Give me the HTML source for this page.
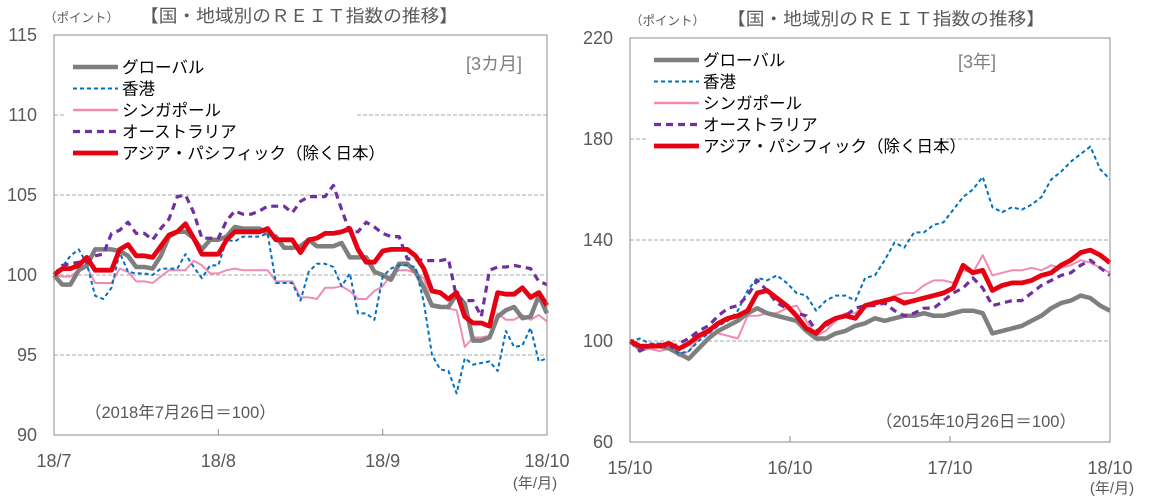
<!DOCTYPE html>
<html><head><meta charset="utf-8">
<style>
html,body{margin:0;padding:0;background:#fff;}
svg{display:block;font-family:"Liberation Sans","Noto Sans CJK JP",sans-serif;}
</style></head>
<body>
<svg id="c" width="1151" height="501" viewBox="0 0 1151 501" xmlns="http://www.w3.org/2000/svg"></svg>
<script>
// ---------- Left chart data (3 months, trading-day samples) ----------
const leftXTicks = ["18/7","18/8","18/9","18/10"];
const leftYTicks = [90,95,100,105,110,115];
const leftGlobal = [100,99.4,99.4,100.3,100.6,101.6,101.6,101.6,101.5,101.2,100.5,100.5,100.4,101.2,102.4,102.7,102.7,102.3,101.6,102.2,102.2,102.4,103,102.9,102.9,102.9,102.6,102.4,101.7,101.7,101.8,102.2,101.8,101.8,101.8,102,101.1,101.1,101.1,100.2,100,99.7,100.7,100.7,100.2,99.2,98.1,98,98,98.8,98.2,95.9,95.9,96.1,97.4,97.8,98,97.3,97.4,98.7,97.6];
const leftHK = [100,100.5,101.2,101.6,100.7,98.7,98.5,99.2,101.4,100.2,100.1,100.1,100,100.4,100.4,100.4,101.3,100.5,99.8,100.6,100.6,102.2,102.1,102.4,102.4,102.4,102.6,99.5,99.5,99.5,98.4,100.2,100.7,100.7,100.5,99.3,100.1,97.6,97.6,97.2,99.9,100.4,100.6,100.6,100.5,98.3,95,94.1,94,92.6,94.8,94.4,94.5,94.6,94,96.5,95.5,95.6,96.7,94.6,94.8];
const leftSG = [100,99.9,99.9,100.3,100.5,99.5,99.5,99.5,100.4,100.2,99.6,99.6,99.5,99.9,100.3,100.3,100.3,100.9,100.6,100.1,100.1,100.3,100.4,100.3,100.3,100.3,100.3,99.6,99.6,99.6,98.6,98.6,98.5,99.2,99.2,99.3,99,98.5,98.5,99,99.3,100,100.3,100.3,100.1,99.8,98.2,98.1,97.9,97.8,95.5,96.1,96.1,96.2,97.6,97.2,97.2,97.5,97.2,97.5,97.1];
const leftAU = [100,100.6,100.7,100.8,100.8,101.2,101.3,102.6,102.8,103.3,102.6,102.6,102.2,102.9,103.5,104.9,105,103.9,102.3,102.3,102.3,103.4,104,103.8,103.8,104,104.3,104.3,104.3,103.9,104.6,104.9,104.9,104.9,105.6,104.1,102.7,102.7,103.3,103,102.6,102.4,102.4,101,101,100.9,100.9,100.9,101,98.6,98.4,98.4,97.4,100.3,100.5,100.5,100.6,100.5,100.4,99.6,99.4];
const leftAP = [100,100.4,100.4,100.6,101.1,100.3,100.3,100.3,101.6,101.9,101.2,101.2,101.1,101.8,102.5,102.7,103.2,102.3,101.3,101.3,101.3,102.2,102.7,102.7,102.7,102.7,102.9,102.2,102.2,102.2,101.4,102.2,102.3,102.6,102.6,102.7,102.9,101.6,100.8,100.8,101.5,101.6,101.6,101.6,101.2,100.4,99,98.9,98.5,98.9,97.4,97,97,96.8,98.9,98.8,98.8,99.2,98.6,98.9,98.1];

// ---------- Right chart data (3 years) ----------
const rightXTicks = ["15/10","16/10","17/10","18/10"];
const rightYTicks = [60,100,140,180,220];
const rightGlobal = [100,97,98,98,97,95,93,97,101,104,106,108,111,113,111,110,109,108,104,101,101,103,104,106,107,109,108,109,110,110,111,110,110,111,112,112,111,103,104,105,106,108,110,113,115,116,118,117,114,112];
const rightHK = [100,101,99,99,98,95,96,100,103,106,108,112,120,125,124,126,123,119,118,112,116,118,118,116,125,126,132,139,137,143,143,146,147,152,157,160,165,153,151,153,152,154,157,164,167,171,174,177,168,164];
const rightSG = [100,96,97,96,97,94,96,101,103,103,102,101,110,110,111,111,113,114,108,102,104,108,111,111,114,116,116,118,119,119,122,124,124,123,128,127,134,126,127,128,128,129,128,130,129,130,132,131,129,127];
const rightAU = [100,96,98,99,97,99,101,104,106,110,113,114,118,124,120,115,113,111,110,104,106,109,110,113,114,114,115,112,110,111,113,113,116,119,121,125,121,114,115,116,116,119,122,124,126,127,130,132,129,126];
const rightAP = [100,98,98,98,99,97,99,102,104,107,109,110,112,119,120,117,114,110,105,103,107,109,110,109,114,115,116,117,115,116,117,118,119,121,130,127,128,120,122,123,123,124,126,127,130,132,135,136,134,131];

const NS="http://www.w3.org/2000/svg";
const svg=document.getElementById('c');
function mk(tag,attrs,parent){const e=document.createElementNS(NS,tag);for(const k in attrs)e.setAttribute(k,attrs[k]);(parent||svg).appendChild(e);return e;}
function txt(s,attrs,parent){const e=mk('text',attrs,parent);e.textContent=s;return e;}

const styles={
 global:{stroke:'#7f7f7f',w:4.5,dash:null},
 hk:{stroke:'#0070c0',w:2,dash:'4,3'},
 sg:{stroke:'#f08cb4',w:2,dash:null},
 au:{stroke:'#7030a0',w:3.2,dash:'7,5'},
 ap:{stroke:'#e60012',w:4.8,dash:null}
};
const legendNames=["グローバル","香港","シンガポール","オーストラリア","アジア・パシフィック（除く日本）"];
const legendKeys=['global','hk','sg','au','ap'];

function chart(cfg){
 const g=mk('g',{});
 
 
 const {x0,x1,y0,y1,vmin,vmax}=cfg;
 const yS=v=>y1-(v-vmin)/(vmax-vmin)*(y1-y0);
 cfg.yTicks.forEach(v=>{
  if(v===vmin||v===vmax)return;
  const y=yS(v);
  if(v===cfg.gapVal){
   const l1=mk('line',{x1:x0,x2:cfg.gap[0],y1:y,y2:y,stroke:'#8c8c8c','stroke-width':0.8,'stroke-dasharray':'4,2'},g);
    
   const l2=mk('line',{x1:cfg.gap[1],x2:x1,y1:y,y2:y,stroke:'#8c8c8c','stroke-width':0.8,'stroke-dasharray':'4,2'},g);
    
  } else {
   const l=mk('line',{x1:x0,x2:x1,y1:y,y2:y,stroke:'#8c8c8c','stroke-width':0.8,'stroke-dasharray':'4,2'},g);
    
  }
 });
 cfg.yTicks.forEach(v=>{
  const t=txt(String(v),{x:cfg.yLabelX,y:yS(v)+6,'text-anchor':'end','font-size':18,fill:'#595959'},g);
   
 });
 cfg.xTicks.forEach((s,i)=>{
  const x=x0+i*(x1-x0)/(cfg.xTicks.length-1);
  if(i>0&&i<cfg.xTicks.length-1){
   const tk=mk('line',{x1:x,x2:x,y1:y1,y2:y1-6,stroke:'#8c8c8c','stroke-width':1},g);
    
  }
  const t=txt(s,{x:x,y:cfg.xLabelY,'text-anchor':'middle','font-size':18,fill:'#595959'},g);
   
 });
 const order=['sg','global','hk','au','ap'];
 order.forEach(k=>{
  const arr=cfg.series[k];
  const n=arr.length;
  const pts=arr.map((v,i)=>(x0+i*(x1-x0)/(n-1)).toFixed(1)+','+yS(v).toFixed(1)).join(' ');
  const st=styles[k];
  const a={points:pts,fill:'none',stroke:st.stroke,'stroke-width':st.w,'stroke-linejoin':'round'};
  if(st.dash)a['stroke-dasharray']=st.dash;
  const p=mk('polyline',a,g);
  
  
 });
 const fr=mk('rect',{x:x0,y:y0,width:x1-x0,height:y1-y0,fill:'none',stroke:'#8c8c8c','stroke-width':1},g);
  
 legendKeys.forEach((k,i)=>{
  const y=cfg.legY+i*cfg.legStep;
  const st=styles[k];
  const a={x1:cfg.legX,x2:cfg.legX+45,y1:y,y2:y,stroke:st.stroke,'stroke-width':st.w+(k==='sg'?0.6:0)};
  if(st.dash)a['stroke-dasharray']=st.dash;
  const l=mk('line',a,g);
   
  const t=txt(legendNames[i],{x:cfg.legX+49,y:y+6,'font-size':16.5,fill:'#000'},g);
   
 });
 const t1=txt('（ポイント）',{x:cfg.unitX,y:cfg.titleY,'font-size':12.5,fill:'#595959'},g);
  
 const t2=txt('【国・地域別のＲＥＩＴ指数の推移】',{x:cfg.titleX,y:cfg.titleY,'font-size':17.5,fill:'#595959','textLength':cfg.titleLen,'lengthAdjust':'spacingAndGlyphs'},g);
  
 const t3=txt(cfg.period,{x:cfg.periodX,y:cfg.periodY,'font-size':18,fill:'#7f7f7f','text-anchor':'middle'},g);
  
 const t4=txt(cfg.note,{x:cfg.noteX,y:cfg.noteY,'font-size':16.5,fill:'#595959'},g);
  
 const t5=txt('(年/月)',{x:cfg.ymX,y:cfg.ymY,'font-size':15,fill:'#595959','text-anchor':'middle'},g);
  
}

chart({name:'chart-3-months',x0:54,x1:547,y0:35,y1:435,vmin:90,vmax:115,
 yTicks:leftYTicks,xTicks:leftXTicks,yLabelX:37,xLabelY:467,gapVal:110,gap:[66,357],
 series:{global:leftGlobal,hk:leftHK,sg:leftSG,au:leftAU,ap:leftAP},
 legX:73,legY:67,legStep:21.5,unitX:44,titleX:140,titleY:22,titleLen:318,
 period:'[3カ月]',periodX:494,periodY:70,note:'（2018年7月26日＝100）',noteX:85,noteY:418,ymX:535,ymY:488});

chart({name:'chart-3-years',x0:630,x1:1110,y0:38,y1:442,vmin:60,vmax:220,
 yTicks:rightYTicks,xTicks:rightXTicks,yLabelX:613,xLabelY:474,gapVal:180,gap:[647,940],
 series:{global:rightGlobal,hk:rightHK,sg:rightSG,au:rightAU,ap:rightAP},
 legX:654,legY:60,legStep:21.5,unitX:630,titleX:727,titleY:25,titleLen:318,
 period:'[3年]',periodX:977,periodY:68,note:'（2015年10月26日＝100）',noteX:876,noteY:427,ymX:1112,ymY:493});
</script>
</body></html>
